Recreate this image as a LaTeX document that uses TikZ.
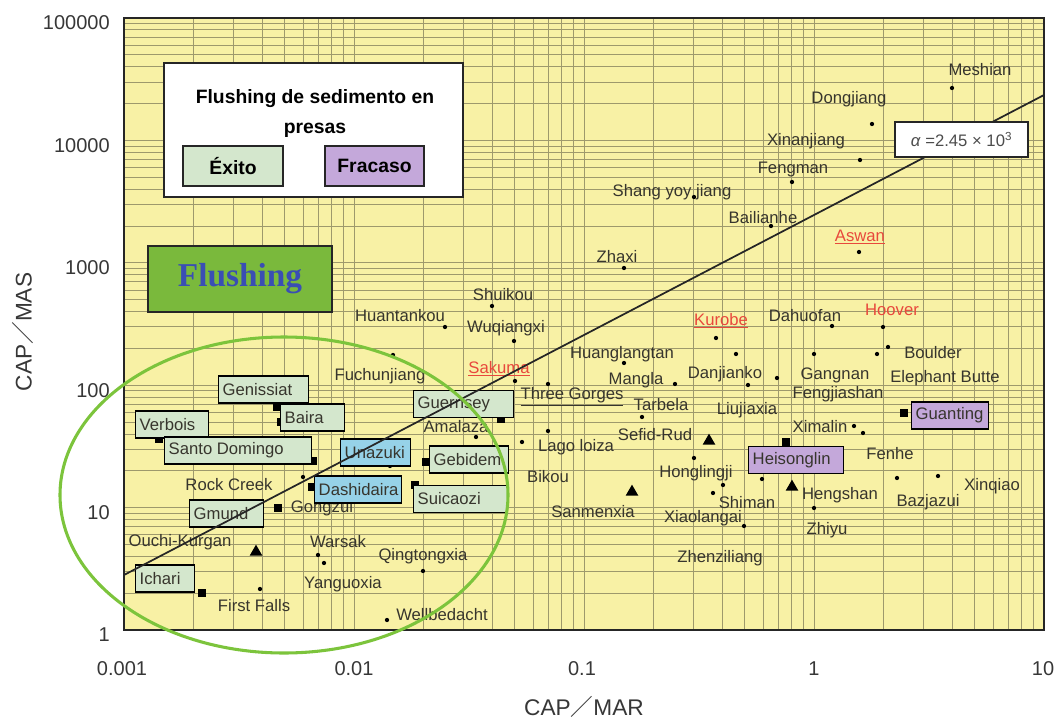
\documentclass[tikz,border=0pt]{standalone}
\usepackage{fontspec}
\setmainfont{Liberation Sans}
\newfontfamily\cjkfont{Noto Sans CJK JP}
\newfontfamily\titleserif{Liberation Serif}
\usetikzlibrary{shapes.geometric}

\definecolor{plotyellow}{RGB}{248,241,165}
\definecolor{gridc}{RGB}{158,153,108}
\definecolor{labelgray}{RGB}{55,53,45}
\definecolor{labelred}{RGB}{232,72,60}
\definecolor{okgreen}{RGB}{212,231,205}
\definecolor{tagblue}{RGB}{150,210,232}
\definecolor{failpurple}{RGB}{196,168,218}
\definecolor{flushgreen}{RGB}{122,185,60}
\definecolor{flushblue}{RGB}{58,78,180}
\definecolor{ringgreen}{RGB}{124,196,60}
\definecolor{tickgray}{RGB}{55,55,55}

% boxed dam name: name, style, left x, right x, centre y, text
\newcommand\damtag[6]{\node[#2, anchor=west] (#1) at (#3,#5) {\makebox[\dimexpr(#4pt-#3pt)*3/4-6pt\relax][l]{#6}};}

\tikzset{
  gridline/.style={draw=gridc, line width=0.6pt},
  lbl/.style={font=\fontsize{12.5}{14}\selectfont, text=labelgray, inner sep=0pt},
  redlbl/.style={lbl, text=labelred},
  tick/.style={font=\fontsize{15}{17}\selectfont, text=tickgray, inner sep=0pt},
  axtitle/.style={font=\fontsize{17}{19}\selectfont, text=tickgray, inner sep=0pt},
  dampt/.style={circle, fill=black, inner sep=0pt, minimum size=3.2pt},
  damsq/.style={rectangle, fill=black, inner sep=0pt, minimum size=6.5pt},
  damtri/.style={regular polygon, regular polygon sides=3, fill=black, inner sep=0pt, minimum size=11pt},
  tagbase/.style={draw=black, line width=1.1pt, font=\fontsize{12.5}{14}\selectfont, text=labelgray, inner xsep=3pt, inner ysep=0pt, minimum height=20pt},
  okbox/.style={tagbase, fill=okgreen},
  bluebox/.style={tagbase, fill=tagblue},
  failbox/.style={tagbase, fill=failpurple},
  legbox/.style={draw=black!85, line width=1.1pt, font=\bfseries\fontsize{14.5}{17}\selectfont, text=black, inner sep=0pt}
}

\begin{document}
\begin{tikzpicture}[x=0.75pt,y=-0.75pt]
\useasboundingbox (0,0) rectangle (1060,721);

% plot area and logarithmic grid
\fill[plotyellow] (124,18) rectangle (1044,630);
\foreach \d in {0,1,2,3}{
  \foreach \k in {1,...,9}{
    \pgfmathsetmacro\gx{124+230*(\d+log10(\k))}
    \draw[gridline] (\gx,18) -- (\gx,630);
  }
}
\foreach \d in {0,1,2,3,4}{
  \foreach \k in {1,...,9}{
    \pgfmathsetmacro\gy{630-122.4*(\d+log10(\k))}
    \draw[gridline] (124,\gy) -- (1044,\gy);
  }
}
\draw[draw=black!85, line width=1.6pt] (124,18) rectangle (1044,630);

% axis numbers
\foreach \v/\yy in {100000/23,10000/145.4,1000/267.8,100/390.2,10/512.6,1/635}
  \node[tick, anchor=east] (ytick-\v) at (110,\yy) {\v};
\foreach \v/\xx in {0.001/122,0.01/354,0.1/582,1/814,10/1043}
  \node[tick] (xtick-\v) at (\xx,669) {\v};
\node[axtitle, rotate=90] (ytitle) at (23,332) {CAP{\cjkfont ／}MAS};
\node[axtitle] (xtitle) at (584,707) {CAP{\cjkfont ／}MAR};

% legend
\node[legbox, fill=white, minimum width=224.25pt, minimum height=100.5pt] (legend) at (313.5,130) {};
\node[legbox, draw=none, align=center, font=\bfseries\fontsize{14.5}{22.5}\selectfont] (legtitle) at (315,113) {Flushing de sedimento en\\presas};
\node[legbox, fill=okgreen, minimum width=75pt, minimum height=30pt] (legok) at (233,166) {Éxito};
\node[legbox, fill=failpurple, minimum width=74.25pt, minimum height=30pt] (legfail) at (374.5,166) {Fracaso};

\node[draw=black!85, line width=1.1pt, fill=flushgreen, minimum width=138pt, minimum height=49.5pt, text=flushblue, font=\titleserif\bfseries\fontsize{25}{28}\selectfont] (flushing) at (240,279) {Flushing};

% markers
\foreach \n/\px/\py in {meshian/952/88, dongjiang/872/124, xinanjiang/860/160, fengman/792/182,
  shang/694/197, bailianhe/771/226, zhaxi/624/268, aswan/859/252, kurobe/716/338,
  dahuofan/832/326, hoover/883/327, boulder/888/347, elephant/877/354, gangnan/814/354,
  a736/736/354, danjianko/748/385, danjiankob/777/378, huanglangtan/624/363, mangla/675/384,
  threegorges/548/384, tarbela/642/417, sakuma/515/381, shuikou/492/306, wuqiangxi/514/341,
  huantankou/445/327, fuchunjiang/393/355, amalaza/476/437, lagoloiza/548/431, bikou/522/442,
  honglingji/694/458, fenhe/762/479, honglingjib/723/485, shiman/713/493, xiaolangai/744/526,
  zhiyu/814/508, ximalin/854/426, ximalinb/863/433, bazjazui/897/478, xinqiao/938/476,
  rockcreek/303/477, warsak/318/555, yanguoxia/324/563, firstfalls/260/589,
  qingtongxia/423/571, wellbedacht/387/620, unazukip/390/466}
  \node[dampt] (p-\n) at (\px,\py) {};
\foreach \n/\px/\py in {genissiat/277/407, baira/281/422, verbois/159/439, santodomingo/313/461,
  gongzui/278/508, ichari/202/593, gebidem/426/462, suicaozi/415/485, dashidaira/312/487,
  guernsey/501/419, guanting/904/413, heisonglin/786/442}
  \node[damsq] (s-\n) at (\px,\py) {};
\foreach \n/\px/\py in {ouchi/256/552, sefidrud/709/441, sanmenxia/632/492, hengshan/792/487}
  \node[damtri] (t-\n) at (\px,\py) {};

% dam names
\node[lbl] (n-meshian) at (980,70) {Meshian};
\node[lbl] (n-dongjiang) at (849,99) {Dongjiang};
\node[lbl] (n-xinanjiang) at (806,141) {Xinanjiang};
\node[lbl] (n-fengman) at (793,169) {Fengman};
\node[lbl] (n-shang) at (672,192) {Shang yoy jiang};
\node[lbl] (n-bailianhe) at (763,218) {Bailianhe};
\node[lbl] (n-zhaxi) at (617,257) {Zhaxi};
\node[redlbl] (n-aswan) at (860,237) {\underline{Aswan}};
\node[redlbl] (n-kurobe) at (721,321) {\underline{Kurobe}};
\node[lbl] (n-dahuofan) at (805,316) {Dahuofan};
\node[redlbl] (n-hoover) at (892,310) {Hoover};
\node[lbl] (n-boulder) at (933,353) {Boulder};
\node[lbl] (n-gangnan) at (835,375) {Gangnan};
\node[lbl] (n-elephant) at (945,378) {Elephant Butte};
\node[lbl] (n-danjianko) at (725,374) {Danjianko};
\node[lbl] (n-fengjiashan) at (838,394) {Fengjiashan};
\node[lbl] (n-liujiaxia) at (747,410) {Liujiaxia};
\node[lbl] (n-ximalin) at (820,427) {Ximalin};
\node[lbl] (n-fenhe) at (890,454) {Fenhe};
\node[lbl] (n-honglingji) at (696,473) {Honglingji};
\node[lbl] (n-shiman) at (747,503) {Shiman};
\node[lbl] (n-xiaolangai) at (703,518) {Xiaolangai};
\node[lbl] (n-hengshan) at (840,495) {Hengshan};
\node[lbl] (n-zhiyu) at (827,530) {Zhiyu};
\node[lbl] (n-bazjazui) at (928,502) {Bazjazui};
\node[lbl] (n-xinqiao) at (992,486) {Xinqiao};
\node[lbl] (n-zhenziliang) at (720,558) {Zhenziliang};
\node[lbl] (n-sanmenxia) at (593,512) {Sanmenxia};
\node[lbl] (n-sefidrud) at (655,435) {Sefid-Rud};
\node[lbl] (n-tarbela) at (661,405) {Tarbela};
\node[lbl] (n-mangla) at (636,380) {Mangla};
\node[lbl] (n-huanglangtan) at (622,354) {Huanglangtan};
\node[lbl] (n-threegorges) at (572,397) {\underline{Three Gorges}};
\node[lbl] (n-lagoloiza) at (576,447) {Lago loiza};
\node[lbl] (n-bikou) at (548,477) {Bikou};
\node[redlbl] (n-sakuma) at (499,369) {\underline{Sakuma}};
\node[lbl] (n-huantankou) at (400,316) {Huantankou};
\node[lbl] (n-shuikou) at (503,295) {Shuikou};
\node[lbl] (n-wuqiangxi) at (506,328) {Wuqiangxi};
\node[lbl] (n-fuchunjiang) at (380,376) {Fuchunjiang};
\node[lbl] (n-amalaza) at (456,427) {Amalaza};
\node[lbl] (n-rockcreek) at (229,485) {Rock Creek};
\node[lbl] (n-gongzui) at (322,508) {Gongzui};
\node[lbl] (n-ouchi) at (180,542) {Ouchi-Kurgan};
\node[lbl] (n-warsak) at (338,542) {Warsak};
\node[lbl] (n-yanguoxia) at (343,584) {Yanguoxia};
\node[lbl] (n-firstfalls) at (254,606) {First Falls};
\node[lbl] (n-qingtongxia) at (423,556) {Qingtongxia};
\node[lbl] (n-wellbedacht) at (442,615) {Wellbedacht};

% boxed dam names
\damtag{b-genissiat}{okbox}{218}{308}{389.5}{Genissiat}
\damtag{b-baira}{okbox}{280}{344}{417.5}{Baira}
\damtag{b-verbois}{okbox}{135}{208}{424.5}{Verbois}
\damtag{b-santodomingo}{okbox}{164}{311}{450.5}{Santo Domingo}
\damtag{b-gmund}{okbox}{189}{263}{513.5}{Gmund}
\damtag{b-ichari}{okbox}{135}{194}{578.5}{Ichari}
\damtag{b-guernsey}{okbox}{413}{513}{404}{Guernsey}
\damtag{b-unazuki}{bluebox}{340}{410}{452.5}{Unazuki}
\damtag{b-gebidem}{okbox}{429}{508}{459.5}{Gebidem}
\damtag{b-dashidaira}{bluebox}{314}{401}{489.5}{Dashidaira}
\damtag{b-suicaozi}{okbox}{413}{507}{499}{Suicaozi}
\damtag{b-guanting}{failbox}{911}{988}{415.5}{Guanting}
\damtag{b-heisonglin}{failbox}{748}{843}{460}{Heisonglin}

% threshold line and its value
\coordinate (trend-a) at (124,575);
\coordinate (trend-b) at (1044,95);
\draw[black!85, line width=1.3pt] (trend-a) -- (trend-b);
\node[draw=black!85, line width=1.1pt, fill=white, minimum width=99.75pt, minimum height=26.25pt, text=black!70, font=\fontsize{12.5}{14}\selectfont] (alpha) at (961.5,139.5) {\textit{α} =2.45 × 10\textsuperscript{3}};

% flushing zone
\draw[ringgreen, line width=2.3pt] (284,495) ellipse [x radius=168pt, y radius=118.5pt];

\end{tikzpicture}
\end{document}
